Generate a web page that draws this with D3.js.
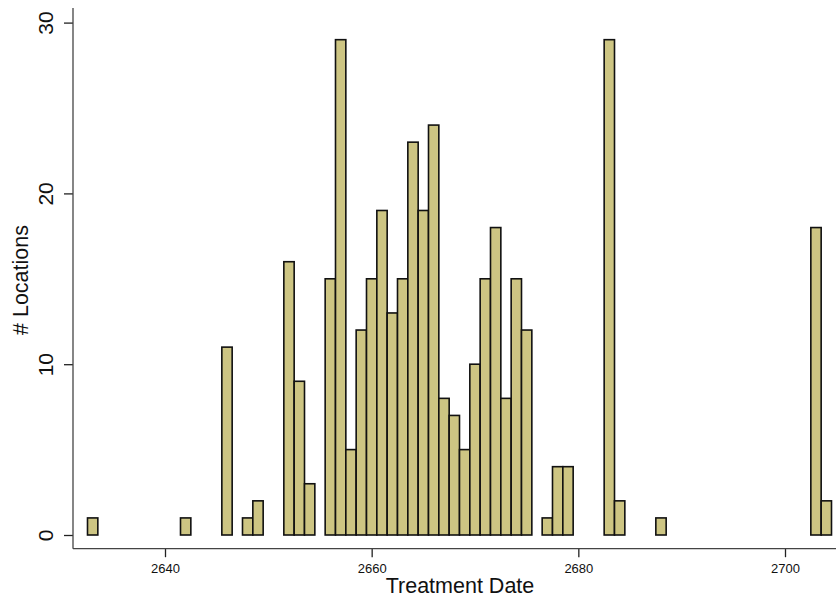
<!DOCTYPE html>
<html>
<head>
<meta charset="utf-8">
<script src="https://cdn.jsdelivr.net/npm/d3@7"></script>
<style>
  html, body { margin: 0; padding: 0; background: #fff; }
  svg { display: block; font-family: "Liberation Sans", Arial, Helvetica, sans-serif; }
</style>
</head>
<body>
<svg id="chart" width="836" height="599"></svg>
<script>
// Treatment dates (day numbers) and number of locations treated on each
const dates  = [2633, 2642, 2646, 2648, 2649, 2652, 2653, 2654, 2656, 2657, 2658, 2659,
                2660, 2661, 2662, 2663, 2664, 2665, 2666, 2667, 2668, 2669, 2670, 2671,
                2672, 2673, 2674, 2675, 2677, 2678, 2679, 2683, 2684, 2688, 2703, 2704];
const counts = [1, 1, 11, 1, 2, 16, 9, 3, 15, 29, 5, 12,
                15, 19, 13, 15, 23, 19, 24, 8, 7, 5, 10, 15,
                18, 8, 15, 12, 1, 4, 4, 29, 2, 1, 18, 2];
const xTicks = [2640, 2660, 2680, 2700];
const yTicks = [0, 10, 20, 30];

const svg = d3.select("#chart");

const x = d3.scaleLinear().domain([2640, 2700]).range([165, 785]);
const y = d3.scaleLinear().domain([0, 30]).range([535, 22.6]);

const axisLeftX = 73;
const axisBottomY = 548.7;
const axisColor = "#444";

// Bars, one per day, centred on the date
svg.append("g")
  .selectAll("rect")
  .data(dates.map((d, i) => ({ d, n: counts[i] })))
  .join("rect")
  .attr("x", p => x(p.d - 0.5))
  .attr("width", p => x(p.d + 0.5) - x(p.d - 0.5))
  .attr("y", p => y(p.n))
  .attr("height", p => y(0) - y(p.n))
  .attr("fill", "#cdc583")
  .attr("stroke", "#111")
  .attr("stroke-width", 1.6);

// Y axis
const yAxis = svg.append("g")
  .attr("transform", `translate(${axisLeftX},0)`)
  .call(d3.axisLeft(y).tickValues(yTicks).tickSize(9).tickSizeOuter(0).tickFormat(d3.format("d")));
yAxis.select(".domain").remove();
yAxis.append("line")
  .attr("x1", 0).attr("x2", 0)
  .attr("y1", 8).attr("y2", axisBottomY)
  .attr("stroke", axisColor).attr("stroke-width", 1.3);
yAxis.selectAll(".tick line").attr("stroke", "#222").attr("stroke-width", 1.3);
yAxis.selectAll(".tick text")
  .attr("fill", "#111")
  .attr("font-size", 21)
  .attr("text-anchor", "middle")
  .attr("transform", "translate(-20,0) rotate(-90)")
  .attr("x", 0)
  .attr("y", 0)
  .attr("dy", "0");

// X axis
const xAxis = svg.append("g")
  .attr("transform", `translate(0,${axisBottomY})`)
  .call(d3.axisBottom(x).tickValues(xTicks).tickSize(8.5).tickSizeOuter(0).tickFormat(d3.format("d")));
xAxis.select(".domain").remove();
xAxis.append("line")
  .attr("x1", axisLeftX).attr("x2", 836)
  .attr("y1", 0).attr("y2", 0)
  .attr("stroke", axisColor).attr("stroke-width", 1.3);
xAxis.selectAll(".tick line").attr("stroke", "#222").attr("stroke-width", 1.3);
xAxis.selectAll(".tick text")
  .attr("fill", "#111")
  .attr("font-size", 13)
  .attr("y", 24.5)
  .attr("dy", "0");

// Axis titles
svg.append("text")
  .attr("x", 460).attr("y", 593)
  .attr("text-anchor", "middle")
  .attr("font-size", 21.5)
  .attr("fill", "#111")
  .text("Treatment Date");

svg.append("text")
  .attr("transform", "translate(28,280) rotate(-90)")
  .attr("text-anchor", "middle")
  .attr("font-size", 21.5)
  .attr("fill", "#111")
  .text("# Locations");
</script>
</body>
</html>
